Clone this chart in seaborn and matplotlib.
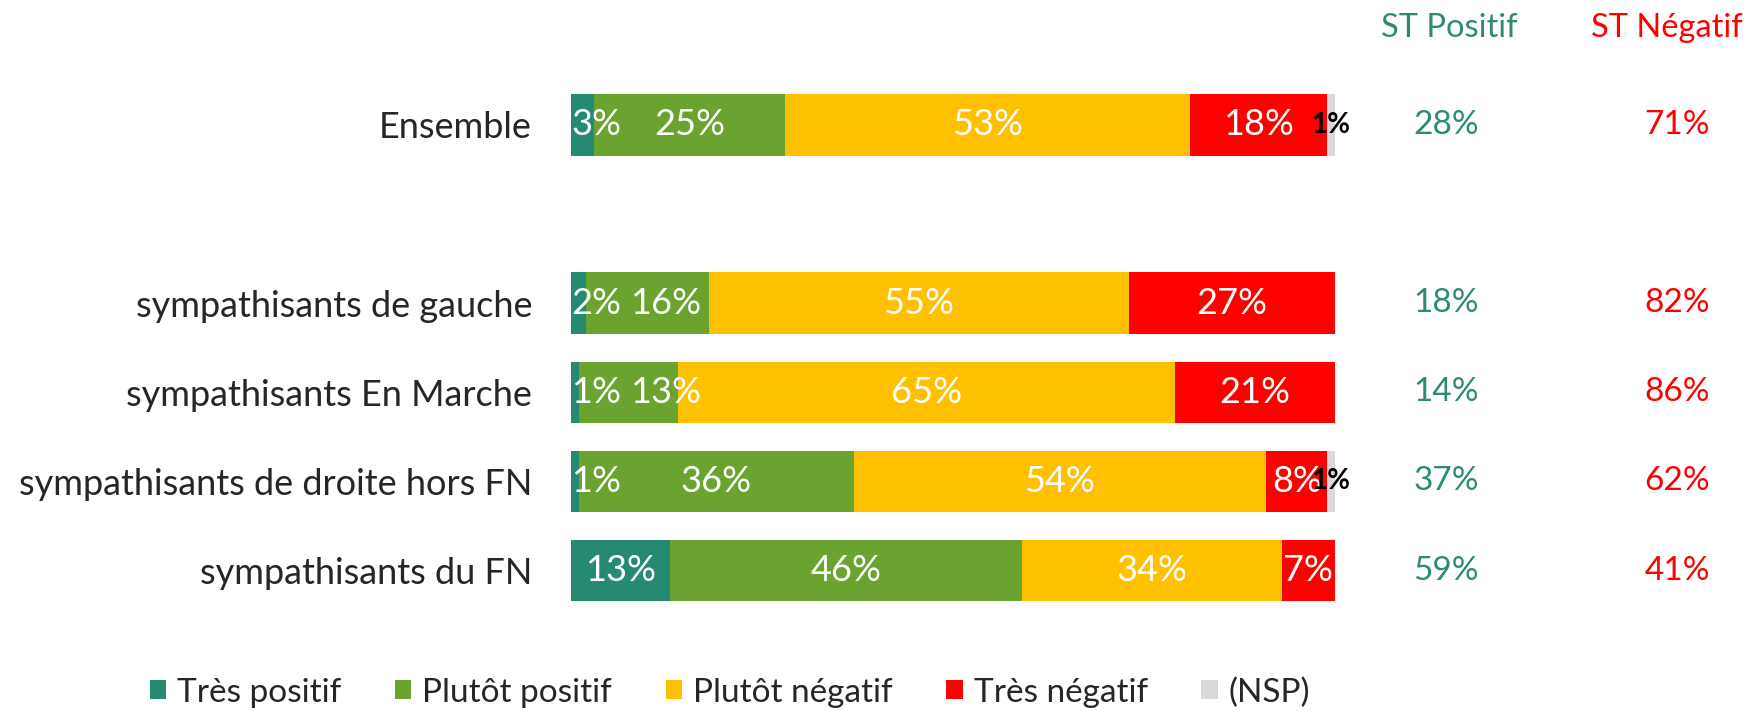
import numpy as np
import pandas as pd
import matplotlib
matplotlib.use("Agg")
import matplotlib.pyplot as plt
import matplotlib.transforms as mtrans
from matplotlib.patches import Patch
import seaborn as sns

categories = ["Ensemble", "sympathisants de gauche", "sympathisants En Marche",
              "sympathisants de droite hors FN", "sympathisants du FN"]
positions = [0, 2, 3, 4, 5]
series_names = ["Très positif", "Plutôt positif", "Plutôt négatif", "Très négatif", "(NSP)"]
tres_positif = [3, 2, 1, 1, 13]
plutot_positif = [25, 16, 13, 36, 46]
plutot_negatif = [53, 55, 65, 54, 34]
tres_negatif = [18, 27, 21, 8, 7]
nsp = [1, 0, 0, 1, 0]
colors = ["#268A73", "#6AA32F", "#FFC000", "#FF0000", "#D9D9D9"]
teal_txt = "#2E8B73"
red_txt = "#FF0000"

sns.set_theme(style="white")
plt.rcParams["font.family"] = ["Lato", "DejaVu Sans"]

W, H = 1746, 711
fig = plt.figure(figsize=(W / 100, H / 100), dpi=100)
ax = fig.add_axes([571 / W, 1 - 641.8 / H, 764 / W, (641.8 - 53.7) / H])

series = [tres_positif, plutot_positif, plutot_negatif, tres_negatif, nsp]
cum = np.cumsum(np.array(series), axis=0)
df = pd.DataFrame({"pos": positions})
for i in reversed(range(len(series))):
    df["cum"] = cum[i]
    sns.barplot(data=df, x="cum", y="pos", orient="h", native_scale=True,
                color=colors[i], saturation=1, width=0.69, linewidth=0, ax=ax)

ax.set_xlim(0, 100)
ax.set_ylim(5.8, -0.8)
ax.set_yticks(positions)
ax.set_yticklabels(categories, fontsize=26)
ax.tick_params(axis="y", length=0, pad=28)
ax.set_xticks([])
ax.set_xlabel("")
ax.set_ylabel("")
for s in ax.spines.values():
    s.set_visible(False)

fig.canvas.draw()
renderer = fig.canvas.get_renderer()
inv = ax.transData.inverted()

# segment labels
for j, p in enumerate(positions):
    start = 0
    prev_right = None
    for i, vals in enumerate(series):
        v = vals[j]
        if v > 0:
            if i == 4:
                ax.text(start + v / 2, p, f"{v}%", ha="center", va="center",
                        color="black", fontsize=20, fontweight="bold")
                start += v
                continue
            if i == 0 and v < 5:
                t = ax.text(start, p, f"{v}%", ha="left", va="center",
                            color="white", fontsize=26)
            else:
                t = ax.text(start + v / 2, p, f"{v}%", ha="center", va="center",
                            color="white", fontsize=26)
                if prev_right is not None:
                    bb = t.get_window_extent(renderer)
                    left_data = inv.transform((bb.x0, bb.y0))[0]
                    if left_data < prev_right + 1.2:
                        t.set_ha("left")
                        t.set_x(prev_right + 1.2)
            bb = t.get_window_extent(renderer)
            prev_right = inv.transform((bb.x1, bb.y0))[0]
        start += v

# ST columns
st_pos = [a + b for a, b in zip(tres_positif, plutot_positif)]
st_neg = [a + b for a, b in zip(plutot_negatif, tres_negatif)]
tr = mtrans.blended_transform_factory(fig.transFigure, ax.transData)
for j, p in enumerate(positions):
    ax.text(1446 / W, p, f"{st_pos[j]}%", transform=tr, ha="center", va="center",
            color=teal_txt, fontsize=24)
    ax.text(1677 / W, p, f"{st_neg[j]}%", transform=tr, ha="center", va="center",
            color=red_txt, fontsize=24)
fig.text(1449 / W, 1 - 28 / H, "ST Positif", ha="center", va="center",
         color=teal_txt, fontsize=23.5)
fig.text(1667 / W, 1 - 28 / H, "ST Négatif", ha="center", va="center",
         color=red_txt, fontsize=23.5)

handles = [Patch(facecolor=c, edgecolor="none", label=n) for c, n in zip(colors, series_names)]
fig.legend(handles=handles, loc="center", bbox_to_anchor=(730 / W, 18.5 / H), ncol=5,
           frameon=False, fontsize=24, handlelength=0.5, handleheight=0.5,
           handletextpad=0.33, columnspacing=1.6, borderaxespad=0)

fig.savefig("out.png", dpi=100)
